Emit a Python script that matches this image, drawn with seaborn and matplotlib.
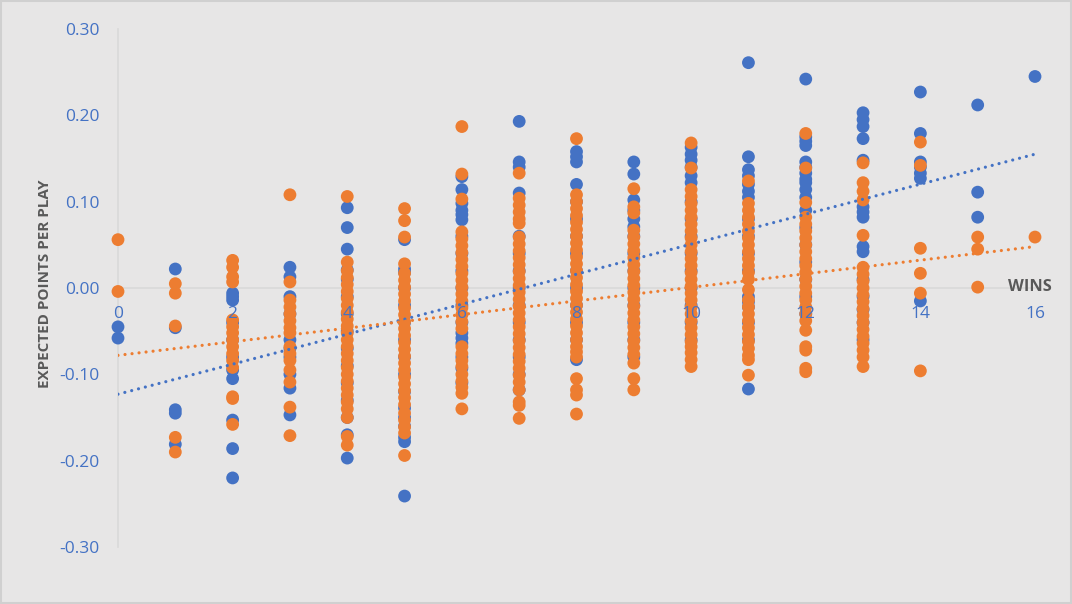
import matplotlib
matplotlib.use("Agg")
import matplotlib.pyplot as plt
import seaborn as sns
import pandas as pd

# ---------------- data ----------------
wins_levels = list(range(17))

blue_epa_by_wins = [
    [-0.045, -0.058],
    [0.022, -0.046, -0.141, -0.145, -0.181],
    [-0.006, -0.010, -0.014, -0.040, -0.060, -0.080, -0.095, -0.105, -0.153, -0.186, -0.220],
    [0.024, 0.013, -0.010, -0.030, -0.060, -0.070, -0.080, -0.100, -0.116, -0.147],
    [0.093, 0.070, 0.045, 0.021, 0.010, -0.010, -0.030, -0.050, -0.070, -0.090, -0.110,
     -0.130, -0.150, -0.170, -0.197],
    [0.056, 0.022, 0.018, 0.000, -0.020, -0.040, -0.060, -0.080, -0.100, -0.120, -0.139,
     -0.150, -0.160, -0.173, -0.178, -0.241],
    [0.129, 0.114, 0.098, 0.090, 0.085, 0.079, 0.060, 0.040, 0.020, 0.000, -0.020, -0.040,
     -0.052, -0.058, -0.064, -0.080, -0.093, -0.110],
    [0.193, 0.146, 0.140, 0.110, 0.060, 0.040, 0.020, 0.000, -0.020, -0.040, -0.060,
     -0.080, -0.100, -0.118],
    [0.158, 0.152, 0.146, 0.120, 0.100, 0.080, 0.060, 0.040, 0.020, 0.000, -0.020, -0.040,
     -0.060, -0.083],
    [0.146, 0.132, 0.102, 0.090, 0.080, 0.071, 0.060, 0.040, 0.020, 0.000, -0.020, -0.040,
     -0.060, -0.080],
    [0.163, 0.155, 0.148, 0.140, 0.130, 0.122, 0.100, 0.080, 0.060, 0.040, 0.020, 0.000,
     -0.020, -0.040, -0.060],
    [0.261, 0.152, 0.137, 0.130, 0.120, 0.112, 0.105, 0.080, 0.060, 0.040, 0.020, -0.010,
     -0.016, -0.022, -0.040, -0.060, -0.117],
    [0.242, 0.175, 0.170, 0.165, 0.146, 0.140, 0.133, 0.126, 0.122, 0.114, 0.105, 0.090,
     0.070, 0.050, 0.030, 0.010, -0.010, -0.030],
    [0.203, 0.195, 0.187, 0.173, 0.148, 0.094, 0.088, 0.082, 0.048, 0.042, 0.010, -0.010,
     -0.025, -0.040, -0.060],
    [0.227, 0.179, 0.146, 0.140, 0.133, 0.127, -0.015],
    [0.212, 0.111, 0.082],
    [0.245],
]

orange_epa_by_wins = [
    [0.056, -0.004],
    [0.005, -0.006, -0.044, -0.173, -0.190],
    [0.032, 0.024, 0.013, 0.007, -0.037, -0.045, -0.052, -0.060, -0.068, -0.076, -0.084,
     -0.092, -0.126, -0.128, -0.158],
    [0.108, 0.007, -0.014, -0.022, -0.030, -0.038, -0.046, -0.052, -0.068, -0.076, -0.084,
     -0.095, -0.109, -0.138, -0.171],
    [0.106, 0.030, 0.020, 0.012, 0.004, -0.004, -0.012, -0.020, -0.028, -0.036, -0.044,
     -0.052, -0.060, -0.068, -0.076, -0.084, -0.092, -0.100, -0.108, -0.116, -0.124,
     -0.132, -0.140, -0.150, -0.172, -0.182],
    [0.092, 0.078, 0.059, 0.028, 0.017, 0.009, 0.001, -0.007, -0.015, -0.023, -0.031,
     -0.039, -0.047, -0.055, -0.063, -0.071, -0.079, -0.087, -0.095, -0.103, -0.111,
     -0.119, -0.127, -0.135, -0.145, -0.153, -0.161, -0.168, -0.194],
    [0.187, 0.132, 0.103, 0.065, 0.057, 0.049, 0.041, 0.033, 0.025, 0.017, 0.009, 0.001,
     -0.007, -0.015, -0.023, -0.031, -0.039, -0.047, -0.068, -0.076, -0.084, -0.091,
     -0.100, -0.108, -0.115, -0.122, -0.140],
    [0.133, 0.104, 0.096, 0.088, 0.080, 0.075, 0.059, 0.051, 0.043, 0.035, 0.027, 0.019,
     0.011, 0.003, -0.005, -0.013, -0.021, -0.029, -0.037, -0.045, -0.053, -0.061,
     -0.069, -0.077, -0.085, -0.093, -0.101, -0.109, -0.118, -0.132, -0.136, -0.151],
    [0.173, 0.108, 0.100, 0.092, 0.084, 0.076, 0.068, 0.060, 0.052, 0.044, 0.036, 0.028,
     0.020, 0.012, 0.004, -0.004, -0.012, -0.020, -0.028, -0.036, -0.044, -0.052,
     -0.060, -0.068, -0.074, -0.080, -0.105, -0.118, -0.124, -0.146],
    [0.115, 0.094, 0.087, 0.067, 0.059, 0.051, 0.043, 0.035, 0.027, 0.019, 0.011, 0.003,
     -0.005, -0.013, -0.021, -0.029, -0.037, -0.045, -0.053, -0.061, -0.069, -0.077,
     -0.087, -0.105, -0.118],
    [0.168, 0.139, 0.114, 0.106, 0.098, 0.090, 0.082, 0.074, 0.066, 0.058, 0.050, 0.042,
     0.034, 0.026, 0.018, 0.010, 0.002, -0.006, -0.014, -0.022, -0.030, -0.038, -0.046,
     -0.054, -0.062, -0.068, -0.075, -0.083, -0.091],
    [0.124, 0.098, 0.090, 0.082, 0.074, 0.066, 0.058, 0.050, 0.042, 0.034, 0.026, 0.018,
     0.010, -0.002, -0.014, -0.022, -0.030, -0.038, -0.046, -0.054, -0.062, -0.070,
     -0.078, -0.083, -0.101],
    [0.179, 0.139, 0.099, 0.082, 0.074, 0.066, 0.058, 0.050, 0.042, 0.034, 0.026, 0.018,
     0.010, 0.002, -0.006, -0.014, -0.022, -0.030, -0.038, -0.049, -0.068, -0.072,
     -0.093, -0.097],
    [0.145, 0.122, 0.112, 0.102, 0.061, 0.024, 0.016, 0.008, 0.000, -0.008, -0.016,
     -0.024, -0.032, -0.040, -0.048, -0.056, -0.064, -0.072, -0.080, -0.091],
    [0.169, 0.142, 0.046, 0.017, -0.006, -0.096],
    [0.059, 0.045, 0.001],
    [0.059],
]

# trend lines (linear fits as displayed), endpoints
trend_wins = [0, 16]
blue_trend = [-0.123, 0.155]
orange_trend = [-0.078, 0.048]

x_ticks = [0, 2, 4, 6, 8, 10, 12, 14, 16]
y_ticks = [-0.30, -0.20, -0.10, 0.00, 0.10, 0.20, 0.30]
y_tick_labels = ["-0.30", "-0.20", "-0.10", "0.00", "0.10", "0.20", "0.30"]

BLUE = "#4472C4"
ORANGE = "#ED7D31"
BG = "#E7E6E6"
GRAY_TEXT = "#595959"


def to_frame(by_wins, name):
    rows = []
    for w, vals in zip(wins_levels, by_wins):
        for v in vals:
            rows.append({"wins": w, "epa": v, "series": name})
    return pd.DataFrame(rows)


df = pd.concat([to_frame(blue_epa_by_wins, "blue"),
                to_frame(orange_epa_by_wins, "orange")], ignore_index=True)
trend_df = pd.DataFrame({
    "wins": trend_wins + trend_wins,
    "epa": blue_trend + orange_trend,
    "series": ["blue", "blue", "orange", "orange"],
})

# ---------------- drawing ----------------
sns.set_theme(style="white")
plt.rcParams["font.family"] = ["Open Sans", "DejaVu Sans"]

fig = plt.figure(figsize=(10.72, 6.04), dpi=100, facecolor=BG)
ax = fig.add_axes([118 / 1072, 1 - 547 / 604, (1035 - 118) / 1072, (547 - 29) / 604])
ax.set_facecolor(BG)

sns.scatterplot(data=df, x="wins", y="epa", hue="series",
                palette={"blue": BLUE, "orange": ORANGE},
                s=85, linewidth=0, legend=False, ax=ax, clip_on=False, zorder=3)

for name, col in [("blue", BLUE), ("orange", ORANGE)]:
    sub = trend_df[trend_df["series"] == name]
    sns.lineplot(data=sub, x="wins", y="epa", color=col, ax=ax,
                 linewidth=2.3, linestyle=(0, (0.01, 2.2)),
                 dash_capstyle="round", zorder=4, legend=False)

ax.set_xlim(0, 16)
ax.set_ylim(-0.30, 0.30)
ax.set_xticks(x_ticks)
ax.set_xticklabels([str(t) for t in x_ticks])
ax.set_yticks(y_ticks)
ax.set_yticklabels(y_tick_labels)

for side in ["top", "right"]:
    ax.spines[side].set_visible(False)
ax.spines["bottom"].set_position(("data", 0))
ax.spines["left"].set_position(("data", 0))
for side in ["bottom", "left"]:
    ax.spines[side].set_color("#D9D9D9")
    ax.spines[side].set_linewidth(1.2)
    ax.spines[side].set_zorder(1)

ax.tick_params(axis="both", length=0, colors=BLUE, labelsize=12.5)
ax.tick_params(axis="x", pad=13)
ax.tick_params(axis="y", pad=13)
ax.xaxis.set_zorder(3.5)

ax.set_xlabel("")
ax.set_ylabel("")
fig.text(45 / 1072, 1 - 284 / 604, "EXPECTED POINTS PER PLAY", rotation=90,
         ha="center", va="center", fontsize=11, fontweight="bold", color=GRAY_TEXT)
fig.text(1030 / 1072, 1 - 287 / 604, "WINS", ha="center", va="center",
         fontsize=11.8, fontweight="bold", color=GRAY_TEXT)

# outer chart border
border = plt.Rectangle((0.001, 0.001), 0.998, 0.997, transform=fig.transFigure,
                       fill=False, edgecolor="#D0D0D0", linewidth=1.5)
fig.patches.append(border)

fig.savefig("out.png", dpi=100, facecolor=BG)
